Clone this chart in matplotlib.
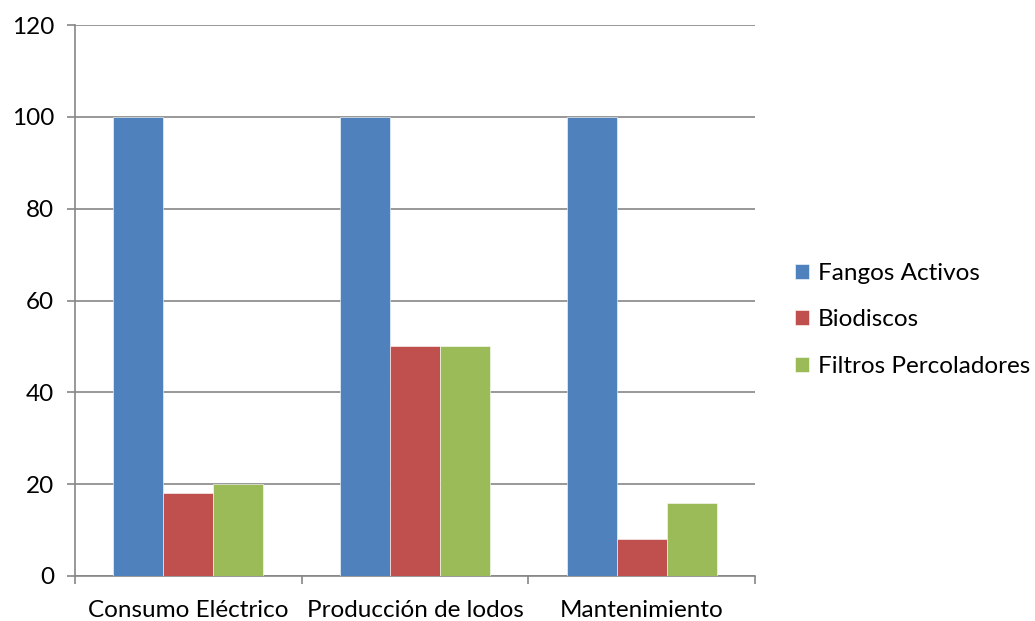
import numpy as np
import matplotlib.pyplot as plt

# datos
categorias = ["Consumo Eléctrico", "Producción de lodos", "Mantenimiento"]
fangos_activos = [100, 100, 100]
biodiscos = [18, 50, 8]
filtros_percoladores = [20, 50, 16]

series = ["Fangos Activos", "Biodiscos", "Filtros Percoladores"]
colores = ["#4F81BD", "#C0504D", "#9BBB59"]

plt.rcParams['font.family'] = ['Lato', 'DejaVu Sans']

fig = plt.figure(figsize=(10.35, 6.21), dpi=100)
ax = fig.add_axes([0.0725, 0.0725, 0.657, 0.887])

x = np.arange(len(categorias))
ancho = 0.2206
valores = [fangos_activos, biodiscos, filtros_percoladores]
for i, (vals, nombre, col) in enumerate(zip(valores, series, colores)):
    ax.bar(x + (i - 1) * ancho, vals, ancho, color=col, label=nombre,
           edgecolor="#ffffff", linewidth=0.4, zorder=3)

ax.set_xlim(-0.5, 2.5)
ax.set_ylim(0, 120)
ax.set_yticks(range(0, 121, 20))
ax.yaxis.grid(True, color="#868686", linewidth=1.2, zorder=0)

# ticks del eje x en los limites de las categorias
ax.set_xticks([-0.5, 0.5, 1.5, 2.5])
ax.set_xticklabels([])
ax.set_xticks(x, minor=True)
ax.set_xticklabels(categorias, minor=True)
ax.tick_params(axis="x", which="major", length=6, width=1.2, color="#868686", direction="out")
ax.tick_params(axis="x", which="minor", length=0, pad=17, labelsize=17.5)
ax.tick_params(axis="y", length=6, width=1.2, color="#868686", pad=9, labelsize=17.5)

for lado in ["top", "right"]:
    ax.spines[lado].set_visible(False)
for lado in ["left", "bottom"]:
    ax.spines[lado].set_color("#868686")
    ax.spines[lado].set_linewidth(1.2)

ax.legend(loc="center left", bbox_to_anchor=(1.044, 0.465), frameon=False,
          fontsize=17.5, handlelength=0.6, handleheight=0.6, handletextpad=0.35,
          labelspacing=1.05, borderaxespad=0)

fig.savefig("out.png", dpi=100)
